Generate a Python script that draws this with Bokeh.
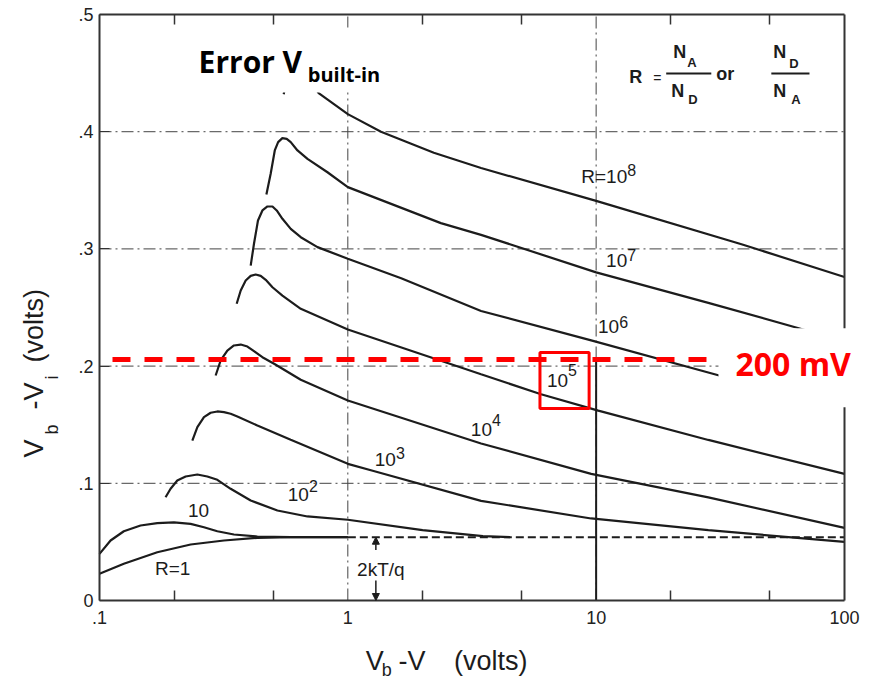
import math
from bokeh.plotting import figure
from bokeh.models import (FixedTicker, LogAxis, LinearAxis, Label,
                          BoxAnnotation, Arrow, NormalHead, ColumnDataSource, Range1d)
from bokeh.core.properties import value
from bokeh.embed import file_html
from bokeh.resources import INLINE

# ---------------- data ----------------
X_BOUNDS = (0.1, 100)
Y_BOUNDS = (0, 0.5)
X_MAJOR = [0.1, 1, 10, 100]
X_MAJOR_LABELS = [".1", "1", "10", "100"]
X_MINOR = [0.2, 0.5, 2, 5, 20, 50]
Y_MAJOR = [0, 0.1, 0.2, 0.3, 0.4, 0.5]
Y_MAJOR_LABELS = ["0", ".1", ".2", ".3", ".4", ".5"]
X_GRID = [1, 10]
Y_GRID = [0.1, 0.2, 0.3, 0.4]

R1_X = [0.1, 0.1253, 0.1709, 0.2328, 0.317, 0.4323, 0.589, 1.0]
R1_Y = [0.0228, 0.0313, 0.0412, 0.0478, 0.0512, 0.0535, 0.054, 0.054]

R10_X = [0.1, 0.1108, 0.1253, 0.1463, 0.1709, 0.1994, 0.2328, 0.2634, 0.2982, 0.3478, 0.4323, 0.589, 1.0]
R10_Y = [0.0398, 0.0512, 0.0591, 0.064, 0.066, 0.0666, 0.0654, 0.0625, 0.0591, 0.0563, 0.0546, 0.054, 0.054]

R1E2_X = [0.1845, 0.1933, 0.2057, 0.2222, 0.2477, 0.2718, 0.2982, 0.3374, 0.4063, 0.5205, 0.6878, 1.0, 2.0, 3.5, 4.5]
R1E2_Y = [0.0881, 0.0953, 0.1024, 0.1058, 0.1075, 0.1058, 0.103, 0.0953, 0.0853, 0.0768, 0.0717, 0.0689, 0.060, 0.055, 0.054]

R1E3_X = [0.2365, 0.2478, 0.2634, 0.2803, 0.2982, 0.317, 0.3374, 0.3591, 0.4323, 0.589, 1.0, 1.27, 3.44, 9.55, 28.3, 100]
R1E3_Y = [0.1365, 0.1479, 0.1564, 0.1602, 0.1613, 0.1607, 0.1593, 0.157, 0.1493, 0.1371, 0.1166, 0.1105, 0.085, 0.070, 0.060, 0.050]

R1E4_X = [0.2936, 0.3075, 0.3272, 0.3478, 0.3704, 0.3941, 0.4189, 0.4529, 0.5047, 0.6464, 1.0, 3.44, 9.55, 28.3, 100]
R1E4_Y = [0.192, 0.2048, 0.2133, 0.2176, 0.2184, 0.2167, 0.2127, 0.2076, 0.202, 0.1883, 0.1706, 0.134, 0.108, 0.088, 0.062]

R1E5_X = [0.3568, 0.3704, 0.3879, 0.4063, 0.4256, 0.4458, 0.467, 0.4972, 0.5453, 0.6464, 1.0, 3.44, 6.0, 10.2, 28.3, 100]
R1E5_Y = [0.2532, 0.2645, 0.273, 0.277, 0.2782, 0.277, 0.2736, 0.2673, 0.2602, 0.2489, 0.2312, 0.193, 0.176, 0.162, 0.137, 0.108]

R1E6_X = [0.4063, 0.4189, 0.4347, 0.4529, 0.4746, 0.4972, 0.5172, 0.5453, 0.589, 0.6464, 0.7548, 1.0, 1.64, 3.44, 9.55, 31.3, 68.4, 100]
R1E6_Y = [0.2858, 0.3044, 0.3242, 0.3328, 0.3362, 0.3362, 0.3328, 0.3257, 0.3171, 0.31, 0.3015, 0.2916, 0.275, 0.247, 0.222, 0.192, 0.173, 0.168]

R1E7_X = [0.470, 0.489, 0.508, 0.524, 0.545, 0.5675, 0.589, 0.627, 0.688, 0.828, 1.0, 2.37, 3.44, 10.0, 28.3, 71.6, 100]
R1E7_Y = [0.3464, 0.3641, 0.384, 0.3911, 0.3945, 0.3939, 0.3911, 0.384, 0.3768, 0.3654, 0.3527, 0.322, 0.312, 0.280, 0.254, 0.230, 0.222]

R1E8_X = [0.552, 0.565, 0.59, 0.62, 0.66, 0.71, 0.763, 1.0, 1.36, 2.22, 3.44, 10.0, 38.5, 100]
R1E8_Y = [0.432, 0.445, 0.453, 0.456, 0.452, 0.443, 0.433, 0.415, 0.400, 0.382, 0.369, 0.341, 0.304, 0.276]

CURVES_X = [R1_X, R10_X, R1E2_X, R1E3_X, R1E4_X, R1E5_X, R1E6_X, R1E7_X, R1E8_X]
CURVES_Y = [R1_Y, R10_Y, R1E2_Y, R1E3_Y, R1E4_Y, R1E5_Y, R1E6_Y, R1E7_Y, R1E8_Y]

KT_LEVEL = 0.054          # 2kT/q asymptote (volts)
KT_X = [1, 100]
THRESHOLD = 0.2056        # red "200 mV" line
THRESH_X = [0.1128, 40.0]

# curve labels: base text ends at x, exponent starts at x (y = text centre)
LBL_X = [0.697, 1.562, 3.807, 7.71, 12.38, 13.34, 13.34]
LBL_BASE_Y = [0.0904, 0.1199, 0.1455, 0.1873, 0.2334, 0.2901, 0.3622]
LBL_EXP_Y = [0.0973, 0.1259, 0.1544, 0.1971, 0.2376, 0.2952, 0.3677]
LBL_BASE = ["10", "10", "10", "10", "10", "10", "R=10"]
LBL_EXP = ["2", "3", "4", "5", "6", "7", "8"]
PLAIN_X = [0.197, 0.2506]
PLAIN_Y = [0.0277, 0.0772]
PLAIN_TEXT = ["R=1", "10"]

FONT = "Liberation Sans"
INK = "#1c1c1c"
AXC = "#333333"

# the frame fills the whole canvas; the visible plot box is drawn by fixed-location axes
p = figure(width=876, height=684, x_axis_type="log",
           x_range=Range1d(0.03993, 134.6), y_range=Range1d(-0.07167, 0.51195),
           output_backend="svg", toolbar_location=None, min_border=0,
           min_border_left=0, min_border_right=0, min_border_top=0, min_border_bottom=0)
p.background_fill_color = "white"
p.border_fill_color = "white"
p.outline_line_color = None
p.xgrid.visible = False
p.ygrid.visible = False

xa = p.xaxis[0]
xa.ticker = FixedTicker(ticks=X_MAJOR, minor_ticks=X_MINOR)
xa.major_label_overrides = dict(zip(X_MAJOR, X_MAJOR_LABELS))
xa.fixed_location = Y_BOUNDS[0]
xa.bounds = X_BOUNDS
ya = p.yaxis[0]
ya.ticker = FixedTicker(ticks=Y_MAJOR)
ya.major_label_overrides = dict(zip(Y_MAJOR, Y_MAJOR_LABELS))
ya.fixed_location = X_BOUNDS[0]
ya.bounds = Y_BOUNDS

top = LogAxis(ticker=FixedTicker(ticks=X_MAJOR, minor_ticks=X_MINOR),
              major_label_text_font_size="1px", major_label_text_alpha=0, major_label_standoff=0,
              fixed_location=Y_BOUNDS[1], bounds=X_BOUNDS)
right = LinearAxis(ticker=FixedTicker(ticks=Y_MAJOR),
                   major_label_text_font_size="1px", major_label_text_alpha=0, major_label_standoff=0,
                   fixed_location=X_BOUNDS[1], bounds=Y_BOUNDS)
p.add_layout(top, "above")
p.add_layout(right, "right")

for ax in [xa, ya, top, right]:
    ax.axis_line_width = 2
    ax.axis_line_color = AXC
    ax.major_tick_out = 0
    ax.minor_tick_out = 0
    ax.major_tick_in = 0
    ax.minor_tick_in = 10
    ax.major_tick_line_color = AXC
    ax.minor_tick_line_color = AXC
    ax.minor_tick_line_width = 1.5
    ax.major_label_text_font = FONT
ya.major_tick_in = 10
ya.minor_tick_line_color = None
right.minor_tick_line_color = None
xa.major_label_text_font_size = "18px"
ya.major_label_text_font_size = "18px"
xa.major_label_text_color = "#222222"
ya.major_label_text_color = "#222222"
xa.major_label_standoff = 10
ya.major_label_standoff = 6

# dash-dot grid lines (bounded to the plot box)
GRID_DASH = "12 4 2 4"
p.segment(x0=X_GRID, x1=X_GRID, y0=[Y_BOUNDS[0]] * len(X_GRID), y1=[Y_BOUNDS[1]] * len(X_GRID),
          line_color="#444444", line_width=1, line_dash=GRID_DASH)
p.segment(x0=[X_BOUNDS[0]] * len(Y_GRID), x1=[X_BOUNDS[1]] * len(Y_GRID), y0=Y_GRID, y1=Y_GRID,
          line_color="#444444", line_width=1, line_dash=GRID_DASH)

# solid lower part of the 10 V line
p.segment(x0=[X_GRID[1]], y0=[Y_BOUNDS[0]], x1=[X_GRID[1]], y1=[THRESHOLD], line_color=INK, line_width=2)

# curves
for cx, cy in zip(CURVES_X, CURVES_Y):
    p.line(cx, cy, line_color=INK, line_width=2.2)

# 2kT/q asymptote
p.line(KT_X, [KT_LEVEL] * len(KT_X), line_color=INK, line_width=2, line_dash="8 4")

# 2kT/q dimension arrows and label
ARROW_X = 1.297
p.add_layout(Arrow(end=NormalHead(size=7, fill_color=INK, line_color=INK), line_color=INK,
                   line_width=1.5, x_start=ARROW_X, y_start=0.043, x_end=ARROW_X, y_end=KT_LEVEL))
p.add_layout(Arrow(end=NormalHead(size=7, fill_color=INK, line_color=INK), line_color=INK,
                   line_width=1.5, x_start=ARROW_X, y_start=0.017, x_end=ARROW_X, y_end=0))
p.text(x=[1.358], y=[0.0262], text=["2kT/q"], text_align="center", text_baseline="alphabetic",
       text_font=value(FONT), text_font_size="19px", text_color=INK)

# curve labels
src = ColumnDataSource(dict(x=LBL_X, yb=LBL_BASE_Y, ye=LBL_EXP_Y, base=LBL_BASE, exp=LBL_EXP))
p.text(x="x", y="yb", text="base", source=src, text_align="right", text_baseline="alphabetic",
       text_font=value(FONT), text_font_size="19px", text_color=INK)
p.text(x="x", y="ye", text="exp", source=src, text_align="left", text_baseline="alphabetic",
       text_font=value(FONT), text_font_size="16px", text_color=INK)
p.text(x=PLAIN_X, y=PLAIN_Y, text=PLAIN_TEXT, text_align="center", text_baseline="alphabetic",
       text_font=value(FONT), text_font_size="19px", text_color=INK)

# red threshold line and box around 10^5 label
p.line(THRESH_X, [THRESHOLD] * len(THRESH_X), line_color="#ff0000", line_width=5, line_dash="18 14")
p.quad(left=[5.94], right=[9.37], bottom=[0.1638], top=[0.2116], fill_alpha=0,
       line_color="#ff0000", line_width=3)

# fraction R = NA/ND or ND/NA
p.segment(x0=[19.15, 50.76], x1=[29.09, 72.3], y0=[0.4497, 0.4497], y1=[0.4497, 0.4497],
          line_color=INK, line_width=2)
frac_big = dict(x=[13.58, 30.47, 20.44, 20.05, 51.7, 51.7],
                y=[0.4467, 0.4492, 0.468, 0.4347, 0.468, 0.4347],
                t=["R", "or", "N", "N", "N", "N"])
p.text(x="x", y="y", text="t", source=ColumnDataSource(frac_big), text_baseline="alphabetic",
       text_font=value(FONT), text_font_size="18px", text_font_style="bold", text_color=INK)
frac_sub = dict(x=[23.28, 23.5, 60.0, 61.1], y=[0.459, 0.4275, 0.4586, 0.4271],
                t=["A", "D", "D", "A"])
p.text(x="x", y="y", text="t", source=ColumnDataSource(frac_sub), text_baseline="alphabetic",
       text_font=value(FONT), text_font_size="13px", text_font_style="bold", text_color=INK)
p.text(x=[17.0], y=[0.4454], text=["="], text_baseline="alphabetic",
       text_font=value(FONT), text_font_size="14px", text_color=INK)

# title with white backing
p.add_layout(BoxAnnotation(left=0.222, right=1.49, bottom=0.4334, top=0.489,
                           fill_color="white", fill_alpha=1, line_color=None, line_alpha=0))
p.add_layout(Label(x=0.2506, y=0.4595, text="Error V", text_font="Open Sans", text_font_style="bold",
                   text_font_size="30px", text_baseline="alphabetic", text_color="black"))
p.add_layout(Label(x=0.69, y=0.4492, text="built-in", text_font="Open Sans", text_font_style="bold",
                   text_font_size="20px", text_baseline="alphabetic", text_color="black"))

# 200 mV label with white backing
p.add_layout(Label(x=31.09, y=0.1985, text="200 mV", text_font="Open Sans", text_font_style="bold",
                   text_font_size="32px", text_baseline="alphabetic", text_color="#ff0000",
                   background_fill_color="white", background_fill_alpha=1.0,
                   padding=(17, 20, 14, 22)))

# axis titles (with subscripts)
AX_FONT = 27
SUB_FONT = 18
for x, y, t, fs in [(1.182, -0.052, "V", AX_FONT), (1.37, -0.0597, "b", SUB_FONT),
                    (1.60, -0.052, "-V", AX_FONT), (2.675, -0.052, "(volts)", AX_FONT)]:
    p.add_layout(Label(x=x, y=y, text=t, text_font=FONT, text_font_size=f"{fs}px",
                       text_baseline="alphabetic", text_color=INK))
for x, y, t, fs in [(0.0547, 0.122, "V", AX_FONT), (0.0641, 0.1416, "b", SUB_FONT),
                    (0.0547, 0.163, "-V", AX_FONT), (0.0641, 0.1886, "i", SUB_FONT),
                    (0.0547, 0.2031, "(volts)", AX_FONT)]:
    p.add_layout(Label(x=x, y=y, text=t, text_font=FONT, text_font_size=f"{fs}px",
                       text_baseline="alphabetic", angle=math.pi / 2, text_color=INK))

open("out.html", "w").write(file_html(p, INLINE))
